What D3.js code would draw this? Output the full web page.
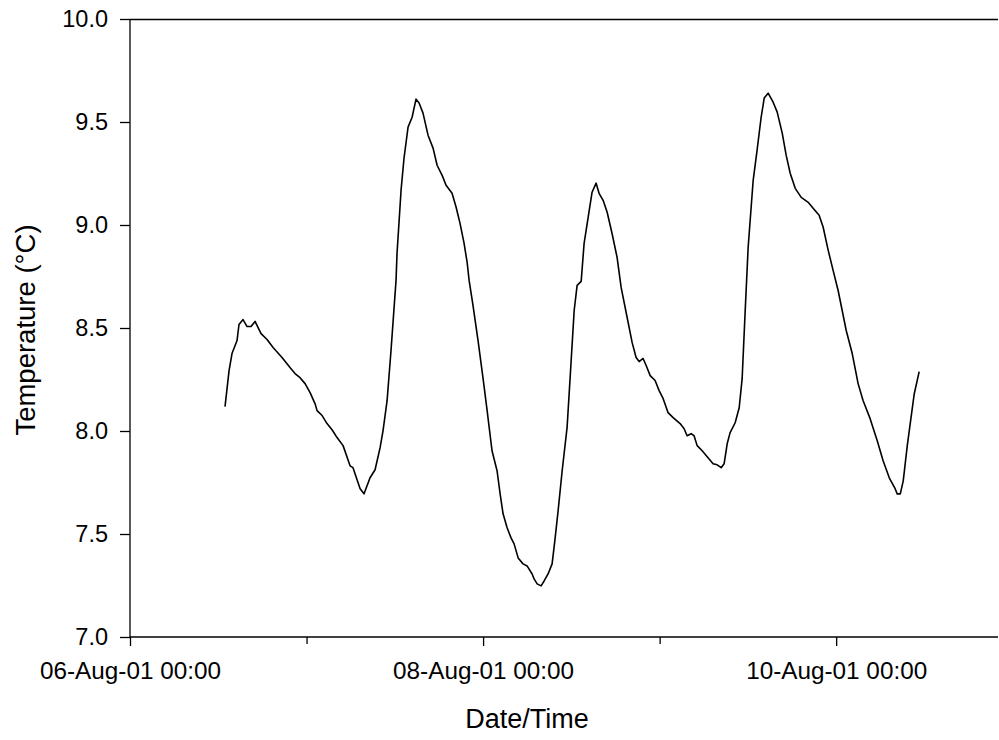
<!DOCTYPE html>
<html>
<head>
<meta charset="utf-8">
<script src="https://cdn.jsdelivr.net/npm/d3@7"></script>
<style>
  html, body { margin: 0; padding: 0; background: #fff; }
  svg { display: block; font-family: "Liberation Sans", Arial, sans-serif; }
</style>
</head>
<body>
<svg id="chart" width="999" height="740"></svg>
<script>
// ---- data ----
const times = [
  "2001-08-06 12:55","2001-08-06 13:28","2001-08-06 13:52","2001-08-06 14:33","2001-08-06 14:49",
  "2001-08-06 15:22","2001-08-06 15:55","2001-08-06 16:27","2001-08-06 17:00","2001-08-06 17:49",
  "2001-08-06 18:38","2001-08-06 19:27","2001-08-06 20:40","2001-08-06 21:45","2001-08-06 22:26",
  "2001-08-06 23:07","2001-08-06 23:48","2001-08-07 00:29","2001-08-07 01:09","2001-08-07 01:26",
  "2001-08-07 02:07","2001-08-07 02:47","2001-08-07 03:28","2001-08-07 04:09","2001-08-07 04:58",
  "2001-08-07 05:55","2001-08-07 06:19","2001-08-07 07:17","2001-08-07 07:49","2001-08-07 08:38",
  "2001-08-07 09:19","2001-08-07 10:00","2001-08-07 10:24","2001-08-07 10:57","2001-08-07 11:29",
  "2001-08-07 12:10","2001-08-07 12:18","2001-08-07 12:51","2001-08-07 13:15","2001-08-07 13:48",
  "2001-08-07 14:21","2001-08-07 14:53","2001-08-07 15:18","2001-08-07 15:50","2001-08-07 16:31",
  "2001-08-07 17:12","2001-08-07 17:45","2001-08-07 18:26","2001-08-07 18:58","2001-08-07 19:47",
  "2001-08-07 20:20","2001-08-07 20:52","2001-08-07 21:25","2001-08-07 21:50","2001-08-07 22:06",
  "2001-08-07 22:38","2001-08-07 23:19","2001-08-08 00:00","2001-08-08 00:33","2001-08-08 01:13",
  "2001-08-08 01:54","2001-08-08 02:19","2001-08-08 02:43","2001-08-08 03:16","2001-08-08 03:48",
  "2001-08-08 04:13","2001-08-08 04:46","2001-08-08 05:26","2001-08-08 05:59","2001-08-08 06:40",
  "2001-08-08 06:56","2001-08-08 07:21","2001-08-08 07:53","2001-08-08 08:18","2001-08-08 08:50",
  "2001-08-08 09:23","2001-08-08 09:47","2001-08-08 10:12","2001-08-08 10:45","2001-08-08 11:25",
  "2001-08-08 11:50","2001-08-08 12:23","2001-08-08 12:47","2001-08-08 13:20","2001-08-08 13:44",
  "2001-08-08 14:17","2001-08-08 14:49","2001-08-08 15:22","2001-08-08 15:46","2001-08-08 16:19",
  "2001-08-08 16:52","2001-08-08 17:32","2001-08-08 18:13","2001-08-08 18:46","2001-08-08 19:35",
  "2001-08-08 20:16","2001-08-08 20:48","2001-08-08 21:13","2001-08-08 21:45","2001-08-08 22:10",
  "2001-08-08 22:43","2001-08-08 23:23","2001-08-08 23:56","2001-08-09 00:29","2001-08-09 01:09",
  "2001-08-09 01:50","2001-08-09 02:47","2001-08-09 03:20","2001-08-09 03:44","2001-08-09 04:17",
  "2001-08-09 04:41","2001-08-09 05:06","2001-08-09 05:47","2001-08-09 06:28","2001-08-09 07:16",
  "2001-08-09 07:49","2001-08-09 08:22","2001-08-09 08:46","2001-08-09 09:11","2001-08-09 09:35",
  "2001-08-09 10:16","2001-08-09 10:49","2001-08-09 11:13","2001-08-09 11:38","2001-08-09 12:02",
  "2001-08-09 12:43","2001-08-09 13:15","2001-08-09 13:48","2001-08-09 14:13","2001-08-09 14:45",
  "2001-08-09 15:26","2001-08-09 15:59","2001-08-09 16:40","2001-08-09 17:12","2001-08-09 17:45",
  "2001-08-09 18:26","2001-08-09 19:15","2001-08-09 20:12","2001-08-09 20:52","2001-08-09 21:41",
  "2001-08-09 22:14","2001-08-09 22:55","2001-08-09 23:35","2001-08-10 00:16","2001-08-10 00:49",
  "2001-08-10 01:22","2001-08-10 02:11","2001-08-10 02:59","2001-08-10 03:40","2001-08-10 04:37",
  "2001-08-10 05:35","2001-08-10 06:23","2001-08-10 07:13","2001-08-10 08:01","2001-08-10 08:18",
  "2001-08-10 08:43","2001-08-10 09:07","2001-08-10 09:40","2001-08-10 10:04","2001-08-10 10:37",
  "2001-08-10 11:17"
];
const temps = [
  8.118,8.293,8.376,8.439,8.517,
  8.541,8.507,8.507,8.532,8.473,
  8.444,8.405,8.357,8.308,8.279,
  8.259,8.230,8.186,8.133,8.099,
  8.075,8.036,8.006,7.968,7.929,
  7.831,7.822,7.720,7.695,7.773,
  7.812,7.919,8.002,8.147,8.391,
  8.731,8.862,9.169,9.324,9.475,
  9.523,9.611,9.592,9.543,9.436,
  9.373,9.290,9.241,9.193,9.154,
  9.086,9.008,8.911,8.818,8.731,
  8.609,8.439,8.254,8.099,7.904,
  7.807,7.695,7.598,7.530,7.481,
  7.452,7.384,7.355,7.345,7.306,
  7.282,7.258,7.248,7.272,7.306,
  7.355,7.476,7.613,7.807,8.016,
  8.259,8.585,8.707,8.726,8.911,
  9.037,9.159,9.203,9.154,9.120,
  9.062,8.959,8.843,8.697,8.551,
  8.429,8.357,8.337,8.352,8.318,
  8.269,8.245,8.196,8.157,8.089,
  8.065,8.036,8.011,7.977,7.987,
  7.977,7.929,7.904,7.875,7.841,
  7.836,7.822,7.841,7.938,7.992,
  8.040,8.113,8.254,8.585,8.891,
  9.217,9.363,9.523,9.616,9.640,
  9.596,9.548,9.446,9.339,9.251,
  9.178,9.134,9.110,9.081,9.047,
  8.989,8.877,8.780,8.682,8.585,
  8.488,8.376,8.230,8.147,8.060,
  7.953,7.856,7.773,7.720,7.695,
  7.695,7.758,7.929,8.036,8.181,
  8.288
];
const xDomain = ["2001-08-06 00:00", "2001-08-10 22:00"];
const xMajorTicks = ["2001-08-06 00:00", "2001-08-08 00:00", "2001-08-10 00:00"];
const xMinorTicks = ["2001-08-07 00:00", "2001-08-09 00:00"];
const yDomain = [7.0, 10.0];
const yTicks = [7.0, 7.5, 8.0, 8.5, 9.0, 9.5, 10.0];
const xTitle = "Date/Time";
const yTitle = "Temperature (°C)";

// ---- drawing ----
(function () {
  const parse = d3.timeParse("%Y-%m-%d %H:%M");
  const fmt = d3.timeFormat("%d-%b-%y %H:%M");
  const data = times.map((t, i) => ({ t: parse(t), v: temps[i] }));

  const svg = d3.select("#chart");
  const mLeft = 130, mRight = 998, mTop = 19, mBottom = 637;

  const x = d3.scaleTime().domain(xDomain.map(parse)).range([mLeft, mRight]);
  const y = d3.scaleLinear().domain(yDomain).range([mBottom, mTop]);

  // top frame line
  svg.append("line")
    .attr("x1", mLeft).attr("x2", mRight)
    .attr("y1", mTop + 0.5).attr("y2", mTop + 0.5)
    .attr("stroke", "#000").attr("stroke-width", 1.3);

  // y axis
  const yAxis = svg.append("g")
    .attr("transform", `translate(${mLeft},0)`)
    .call(d3.axisLeft(y).tickValues(yTicks).tickFormat(d3.format(".1f")).tickSize(10).tickPadding(12));

  // x axis major
  const xAxis = svg.append("g")
    .attr("transform", `translate(0,${mBottom})`)
    .call(d3.axisBottom(x).tickValues(xMajorTicks.map(parse)).tickFormat(fmt).tickSize(9).tickPadding(16));
  // x axis minor ticks
  const xMinor = svg.append("g")
    .attr("transform", `translate(0,${mBottom})`)
    .call(d3.axisBottom(x).tickValues(xMinorTicks.map(parse)).tickFormat("").tickSize(7).tickSizeOuter(0));
  xMinor.select(".domain").remove();

  svg.selectAll(".domain").attr("stroke", "#000").attr("stroke-width", 1.3);
  svg.selectAll(".tick line").attr("stroke", "#000").attr("stroke-width", 1.3);
  svg.selectAll(".tick text")
    .attr("fill", "#000")
    .style("font-family", "'Liberation Sans', Arial, sans-serif");
  yAxis.selectAll(".tick text").style("font-size", "23.5px");
  xAxis.selectAll(".tick text").style("font-size", "24.3px");
  yAxis.select(".domain").attr("d", `M0,${mBottom}V${mTop}`);
  xAxis.select(".domain").attr("d", `M${mLeft},0H${mRight}`);

  // line
  svg.append("path")
    .datum(data)
    .attr("fill", "none")
    .attr("stroke", "#000")
    .attr("stroke-width", 1.6)
    .attr("stroke-linejoin", "round")
    .attr("d", d3.line().x(d => x(d.t)).y(d => y(d.v)));

  // titles
  svg.append("text")
    .attr("x", 527).attr("y", 728)
    .attr("text-anchor", "middle")
    .style("font-size", "27px")
    .text(xTitle);

  svg.append("text")
    .attr("transform", `translate(35,330) rotate(-90)`)
    .attr("text-anchor", "middle")
    .style("font-size", "27.5px")
    .text(yTitle);
})();
</script>
</body>
</html>
